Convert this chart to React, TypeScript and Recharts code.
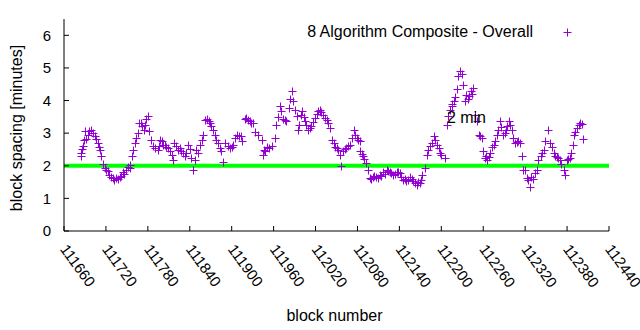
import { ScatterChart, Scatter, XAxis, YAxis, ReferenceLine, ReferenceDot, Legend, Label } from 'recharts';

// block numbers (x) and the matching block spacing in minutes (y)
const blockNumbers = [
    111684, 111685, 111686, 111689, 111690, 111692, 111696, 111699, 111704, 111706,
    111710, 111711, 111716, 111718, 111723, 111725, 111730, 111735, 111740, 111744,
    111749, 111754, 111755, 111757, 111759, 111761, 111763, 111766, 111768, 111771,
    111774, 111778, 111780, 111782, 111785, 111790, 111794, 111798, 111800, 111802,
    111804, 111809, 111814, 111816, 111818, 111823, 111828, 111833, 111837, 111842,
    111845, 111847, 111849, 111854, 111857, 111859, 111864, 111867, 111871, 111873,
    111876, 111880, 111885, 111888, 111891, 111897, 111902, 111907, 111911, 111915,
    111919, 111921, 111926, 111931, 111938, 111943, 111945, 111946, 111950, 111954,
    111962, 111964, 111969, 111970, 111974, 111978, 111982, 111986, 111988, 111993,
    111995, 111997, 112001, 112005, 112009, 112014, 112019, 112024, 112026, 112031,
    112033, 112038, 112040, 112043, 112048, 112052, 112055, 112057, 112059, 112064,
    112069, 112072, 112075, 112079, 112083, 112084, 112088, 112092, 112095, 112098,
    112102, 112107, 112112, 112117, 112122, 112126, 112131, 112136, 112141, 112145,
    112150, 112155, 112160, 112165, 112169, 112173, 112177, 112179, 112181, 112186,
    112189, 112191, 112196, 112200, 112205, 112208, 112210, 112215, 112218, 112222,
    112224, 112227, 112229, 112231, 112234, 112236, 112240, 112243, 112246, 112248,
    112251, 112254, 112258, 112260, 112262, 112266, 112270, 112272, 112277, 112281,
    112284, 112288, 112291, 112294, 112297, 112301, 112305, 112310, 112313, 112315,
    112317, 112320, 112322, 112327, 112329, 112334, 112337, 112339, 112344, 112347,
    112349, 112352, 112355, 112358, 112363, 112367, 112370, 112375, 112377, 112380,
    112384, 112388, 112390, 112394, 112399, 112403,
    // points inside the denser clusters
    111687, 111694, 111701, 111708, 111713, 111720, 111727, 111732, 111737, 111742,
    111746, 111751, 111770, 111776, 111788, 111796, 111806, 111811, 111820, 111826,
    111831, 111835, 111840, 111852, 111862, 111869, 111878, 111883, 111894, 111900,
    111905, 111913, 111924, 111928, 111934, 111948, 111957, 111966, 111976, 111984,
    111991, 111999, 112003, 112007, 112012, 112017, 112022, 112028, 112036, 112046,
    112050, 112062, 112067, 112077, 112081, 112086, 112090, 112100, 112104, 112110,
    112114, 112120, 112124, 112128, 112134, 112138, 112143, 112148, 112152, 112158,
    112163, 112167, 112171, 112184, 112194, 112198, 112212, 112216, 112220, 112238,
    112244, 112256, 112264, 112268, 112275, 112279, 112286, 112292, 112299, 112303,
    112308, 112324, 112331, 112342, 112361, 112365, 112372, 112382, 112386, 112392,
    112397, 112401,
];

const blockSpacing = [
    2.29, 2.39, 2.51, 2.80, 3.06, 2.82, 3.06, 3.11, 2.90, 2.82,
    2.57, 2.49, 2.06, 1.93, 1.83, 1.72, 1.62, 1.62, 1.65, 1.82,
    1.88, 1.93, 2.03, 2.29, 2.49, 2.70, 2.85, 3.00, 3.31, 3.21,
    3.11, 3.42, 3.52, 3.06, 2.80, 2.54, 2.49, 2.80, 2.75, 2.65,
    2.65, 2.54, 2.34, 2.18, 2.70, 2.49, 2.44, 2.29, 2.65, 2.24,
    1.88, 2.18, 2.49, 2.65, 2.80, 2.95, 3.42, 3.36, 3.21, 3.11,
    2.95, 2.70, 2.44, 2.13, 2.70, 2.54, 2.65, 2.95, 2.90, 2.75,
    3.42, 3.47, 3.36, 3.31, 2.95, 2.80, 2.34, 2.49, 2.59, 2.54,
    2.85, 3.26, 3.82, 3.67, 3.42, 3.36, 3.77, 4.29, 3.98, 3.52,
    3.11, 3.26, 3.67, 3.36, 3.11, 3.21, 3.47, 3.67, 3.72, 3.57,
    3.47, 3.31, 3.16, 2.80, 2.59, 2.49, 2.34, 1.98, 2.44, 2.54,
    2.65, 2.85, 3.11, 2.85, 2.75, 2.44, 2.29, 2.08, 1.88, 1.62,
    1.65, 1.65, 1.72, 1.82, 1.88, 1.82, 1.72, 1.82, 1.78, 1.57,
    1.52, 1.67, 1.52, 1.42, 1.47, 1.72, 1.93, 2.34, 2.49, 2.70,
    2.90, 2.80, 2.54, 2.34, 2.24, 3.26, 3.52, 3.82, 3.98, 4.34,
    4.75, 4.90, 4.80, 4.49, 3.98, 4.18, 4.13, 4.29, 4.39, 3.57,
    3.36, 2.95, 2.85, 2.44, 2.24, 2.18, 2.39, 2.59, 2.75, 3.11,
    3.36, 2.95, 3.00, 3.21, 3.36, 3.11, 2.70, 2.75, 2.70, 2.29,
    1.88, 1.88, 1.62, 1.36, 1.67, 1.78, 1.88, 2.18, 2.39, 2.49,
    2.75, 3.11, 2.70, 2.59, 2.29, 2.24, 2.18, 1.88, 1.72, 2.18,
    2.24, 2.65, 2.95, 3.16, 3.31, 2.82,
    // points inside the denser clusters
    2.62, 2.95, 3.00, 2.70, 2.30, 1.88, 1.66, 1.55, 1.58, 1.70,
    1.75, 1.95, 3.30, 3.25, 2.62, 2.60, 2.57, 2.45, 2.60, 2.55,
    2.38, 2.40, 2.50, 2.40, 3.40, 3.30, 2.80, 2.55, 2.62, 2.58,
    2.85, 2.92, 3.40, 3.30, 3.05, 2.45, 2.60, 3.50, 3.40, 4.05,
    3.70, 3.55, 3.50, 3.25, 3.15, 3.35, 3.60, 3.65, 3.40, 2.70,
    2.55, 2.50, 2.60, 2.95, 2.80, 2.35, 2.20, 1.58, 1.70, 1.62,
    1.68, 1.75, 1.85, 1.78, 1.75, 1.80, 1.65, 1.58, 1.55, 1.60,
    1.48, 1.50, 1.55, 2.60, 2.65, 2.40, 3.70, 3.90, 4.10, 4.05,
    4.20, 2.90, 2.30, 2.28, 2.65, 2.95, 3.20, 3.10, 3.25, 2.85,
    2.72, 1.55, 1.60, 2.30, 2.40, 2.26, 2.05, 2.20, 2.40, 3.05,
    3.25, 3.28,
];

const xTicks = [
    111660, 111720, 111780, 111840, 111900, 111960, 112020,
    112080, 112140, 112200, 112260, 112320, 112380, 112440,
];
const yTicks = [0, 1, 2, 3, 4, 5, 6];

const seriesName = '8 Algorithm Composite - Overall';
const targetSpacing = 2;
const targetLabel = '2 min';
const targetLabelBlock = 112208;
const targetLabelSpacing = 3.5;

const points = blockNumbers.map((block, i) => ({ block, spacing: blockSpacing[i] }));

const FONT = '"Liberation Sans", Arial, sans-serif';
const PURPLE = '#9400d3';

// gnuplot style "+" point, snapped to pixel centres so the 1px strokes stay sharp
function PlusMarker(props: any) {
    const { cx, cy } = props;
    if (cx == null || cy == null) return null;
    const px = Math.round(cx) + 0.5;
    const py = Math.round(cy) + 0.5;
    return (
        <path
            d={`M${px - 4},${py}h8M${px},${py - 4}v8`}
            stroke={PURPLE}
            strokeWidth={1}
            fill="none" />
    );
}

function XTick(props: any) {
    const { x, y, payload } = props;
    return (
        <text
            x={x}
            y={y}
            transform={`rotate(54, ${x}, ${y})`}
            textAnchor="start"
            dominantBaseline="central"
            fontSize={15}
            fontFamily={FONT}
            fill="#000">
            {payload.value}
        </text>
    );
}

function KeyBox() {
    return (
        <div style={{
            display: 'flex',
            justifyContent: 'flex-end',
            alignItems: 'flex-start',
            fontFamily: FONT,
            fontSize: 16,
            lineHeight: '18px',
            height: 18,
            color: '#000',
            whiteSpace: 'nowrap'
        }}>
            <span>{seriesName}</span>
            <svg width={9} height={18} style={{ marginLeft: 30, display: 'block' }}>
                <path d="M0.5,9.5h8M4.5,5.5v8" stroke={PURPLE} strokeWidth={1} fill="none" />
            </svg>
        </div>
    );
}

export default function App() {
    return (
        <div style={{ position: 'absolute', left: 0, top: 0, width: 640, height: 330, background: '#fff' }}>
            <ScatterChart width={640} height={330} margin={{ top: 19, right: 31, bottom: 0, left: 0 }}>
                <XAxis
                    xAxisId={0}
                    dataKey="block"
                    type="number"
                    domain={[111660, 112440]}
                    ticks={xTicks}
                    interval={0}
                    allowDataOverflow
                    height={99}
                    tickSize={-5}
                    tickMargin={20}
                    tick={<XTick />}
                    axisLine={{ stroke: '#000' }}
                    tickLine={{ stroke: '#000' }}>
                    <Label content={(p: any) => {
                        const vb = p.viewBox || { x: 64, y: 231, width: 545 };
                        return (
                            <text x={vb.x + vb.width / 2 - 2} y={vb.y + 90} textAnchor="middle"
                                fontSize={16} fontFamily={FONT} fill="#000">block number</text>
                        );
                    }} />
                </XAxis>
                <XAxis
                    xAxisId="top"
                    orientation="top"
                    type="number"
                    domain={[111660, 112440]}
                    ticks={xTicks}
                    interval={0}
                    allowDataOverflow
                    height={0}
                    tickSize={-5}
                    tick={false}
                    axisLine={{ stroke: '#000' }}
                    tickLine={{ stroke: '#000' }} />
                <YAxis
                    yAxisId={0}
                    dataKey="spacing"
                    type="number"
                    domain={[0, 6.5]}
                    ticks={yTicks}
                    interval={0}
                    allowDataOverflow
                    width={64}
                    tickSize={-5}
                    tickMargin={18}
                    tick={{ fontSize: 15, fontFamily: FONT, fill: '#000' }}
                    axisLine={{ stroke: '#000' }}
                    tickLine={{ stroke: '#000' }}>
                    <Label content={(p: any) => {
                        const vb = p.viewBox || { x: 0, y: 19, height: 212 };
                        const cx = vb.x + 22;
                        const cy = vb.y + vb.height / 2 + 3;
                        return (
                            <text x={cx} y={cy} transform={`rotate(-90, ${cx}, ${cy})`} textAnchor="middle"
                                fontSize={16} fontFamily={FONT} fill="#000">block spacing [minutes]</text>
                        );
                    }} />
                </YAxis>
                <YAxis
                    yAxisId="right"
                    orientation="right"
                    type="number"
                    domain={[0, 6.5]}
                    ticks={yTicks}
                    interval={0}
                    allowDataOverflow
                    width={0}
                    tickSize={-5}
                    tick={false}
                    axisLine={{ stroke: '#000' }}
                    tickLine={{ stroke: '#000' }} />
                <Legend
                    layout="horizontal"
                    verticalAlign="middle"
                    align="center"
                    wrapperStyle={{ position: 'absolute', left: 272, top: 23, width: 300, height: 18 }}
                    content={() => <KeyBox />} />
                <ReferenceDot
                    x={targetLabelBlock}
                    y={targetLabelSpacing}
                    r={0}
                    fill="none"
                    stroke="none"
                    label={{ value: targetLabel, position: 'right', offset: 0, fontSize: 16, fontFamily: FONT, fill: '#000' }} />
                <Scatter
                    name={seriesName}
                    data={points}
                    shape={PlusMarker}
                    isAnimationActive={false} />
                <ReferenceLine y={targetSpacing} stroke="#00ff00" strokeWidth={4} />
            </ScatterChart>
        </div>
    );
}
